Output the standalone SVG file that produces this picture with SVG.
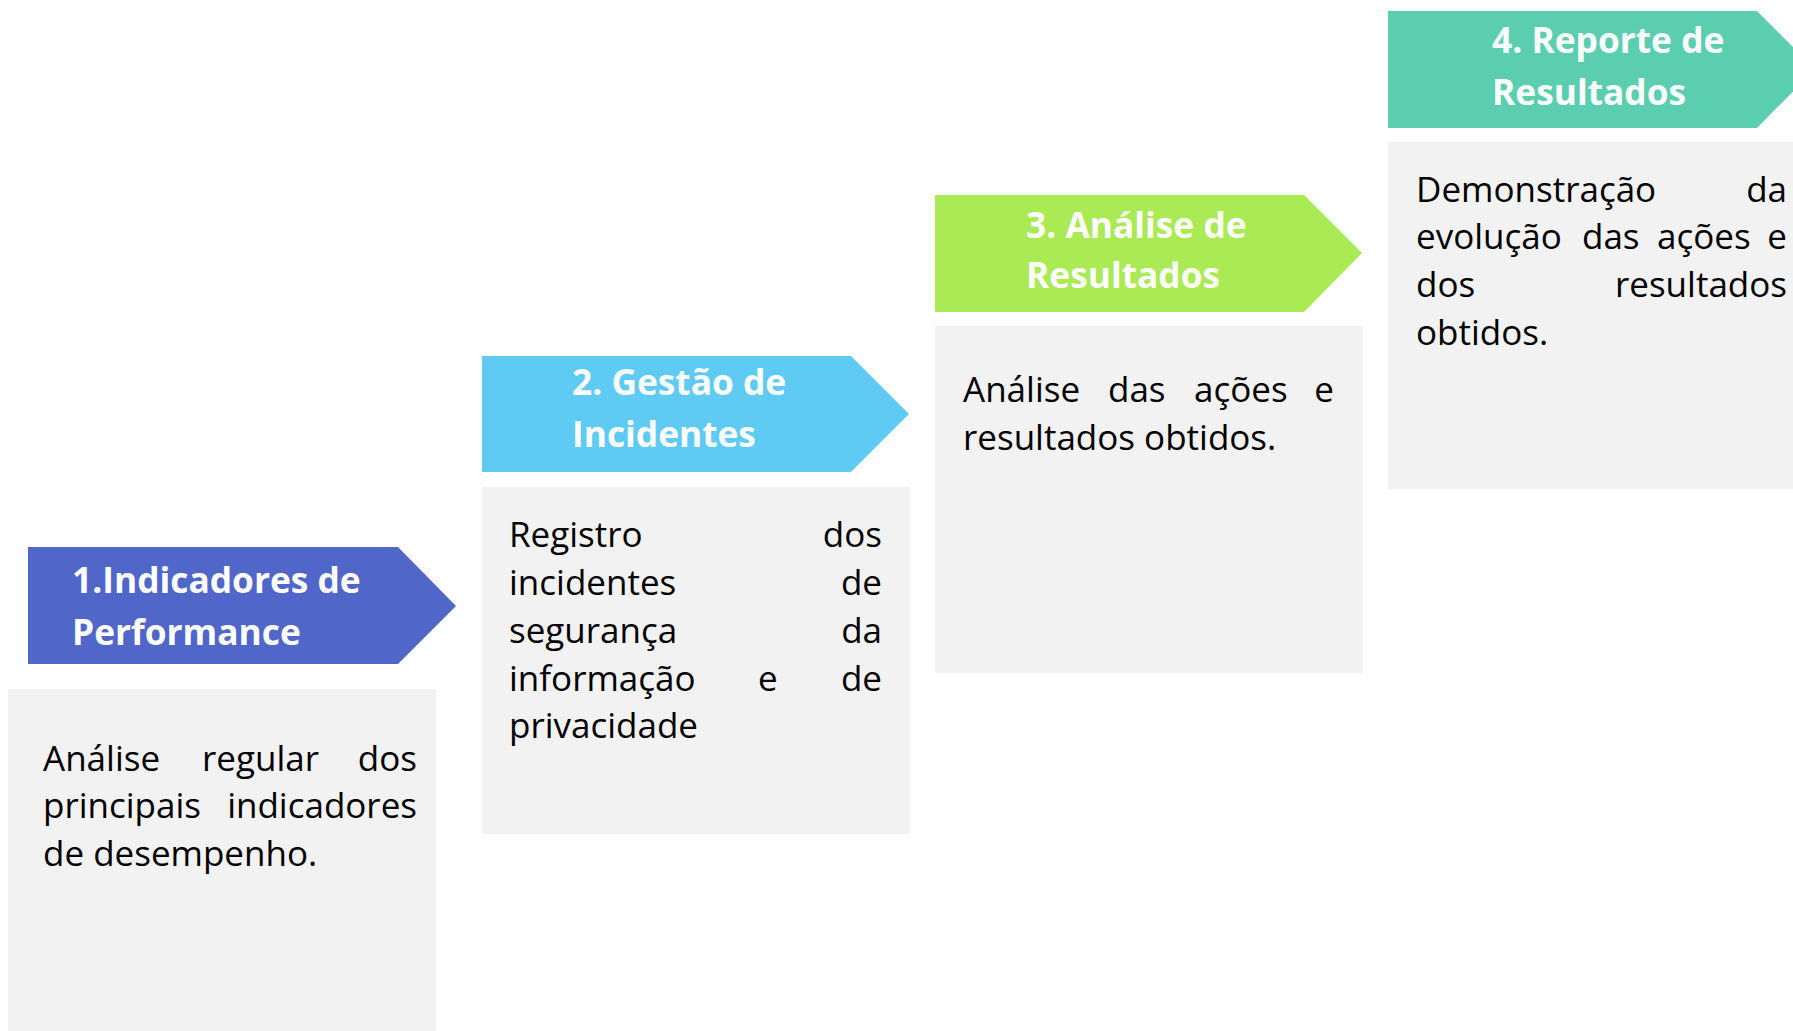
<svg xmlns="http://www.w3.org/2000/svg" width="1793" height="1031" viewBox="0 0 1793 1031">
<style>
.box{fill:#F2F2F2}
.title{font-family:"Open Sans","Noto Sans",sans-serif;font-weight:bold;font-size:35.3px;fill:#FFFFFF}
.body{font-family:"Open Sans","Noto Sans",sans-serif;font-size:35px;fill:#000000}
.end{text-anchor:end}
</style>
<rect width="1793" height="1031" fill="#FFFFFF"/>
<g id="step1">
<polygon points="28,547 398,547 456,606 398,664 28,664" fill="#5067C9"/>
<text class="title" x="72" y="593">1.Indicadores de</text>
<text class="title" x="72" y="645">Performance</text>
<rect class="box" x="8" y="689" width="428" height="342"/>
<text class="body" x="43" y="771">Análise</text>
<text class="body" x="202" y="771">regular</text>
<text class="body end" x="417" y="771">dos</text>
<text class="body" x="43" y="818">principais</text>
<text class="body end" x="417" y="818">indicadores</text>
<text class="body" x="43" y="866">de desempenho.</text>
</g>
<g id="step2">
<polygon points="482,356 851,356 909,414 851,472 482,472" fill="#5FCBF3"/>
<text class="title" x="572" y="395">2. Gestão de</text>
<text class="title" x="572" y="447">Incidentes</text>
<rect class="box" x="482" y="487" width="428" height="347"/>
<text class="body" x="509" y="547">Registro</text>
<text class="body end" x="882" y="547">dos</text>
<text class="body" x="509" y="595">incidentes</text>
<text class="body end" x="882" y="595">de</text>
<text class="body" x="509" y="643">segurança</text>
<text class="body end" x="882" y="643">da</text>
<text class="body" x="509" y="691">informação</text>
<text class="body" x="758" y="691">e</text>
<text class="body end" x="882" y="691">de</text>
<text class="body" x="509" y="738">privacidade</text>
</g>
<g id="step3">
<polygon points="935,195 1304,195 1362,253 1304,312 935,312" fill="#A9EA55"/>
<text class="title" x="1026" y="238">3. Análise de</text>
<text class="title" x="1026" y="288">Resultados</text>
<rect class="box" x="935" y="326" width="428" height="347"/>
<text class="body" x="963" y="402">Análise</text>
<text class="body" x="1108" y="402">das</text>
<text class="body" x="1194" y="402">ações</text>
<text class="body end" x="1334" y="402">e</text>
<text class="body" x="963" y="450">resultados obtidos.</text>
</g>
<g id="step4">
<polygon points="1388,11 1757,11 1815,69 1757,128 1388,128" fill="#5CCEB0"/>
<text class="title" x="1492" y="53">4. Reporte de</text>
<text class="title" x="1492" y="105">Resultados</text>
<rect class="box" x="1388" y="142" width="405" height="347"/>
<text class="body" x="1416" y="202">Demonstração</text>
<text class="body end" x="1787" y="202">da</text>
<text class="body" x="1416" y="249">evolução</text>
<text class="body" x="1582" y="249">das</text>
<text class="body" x="1657" y="249">ações</text>
<text class="body end" x="1787" y="249">e</text>
<text class="body" x="1416" y="297">dos</text>
<text class="body end" x="1787" y="297">resultados</text>
<text class="body" x="1416" y="345">obtidos.</text>
</g>
<g id="connectors"></g>
</svg>
